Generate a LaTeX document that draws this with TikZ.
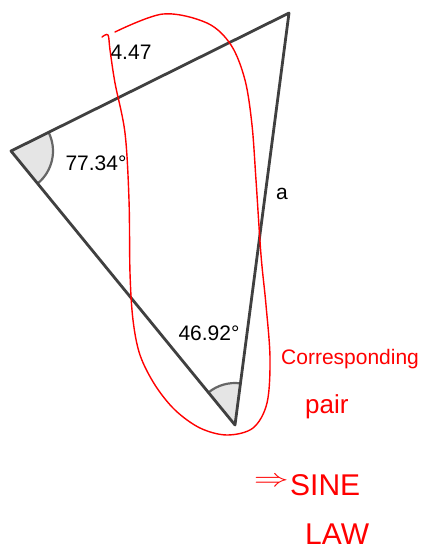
\documentclass[tikz,border=0pt]{standalone}
\usepackage{fontspec}
\setmainfont{Liberation Sans}
\usetikzlibrary{angles,positioning}

\begin{document}
\begin{tikzpicture}[
    x=1pt, y=1pt,
    side/.style={draw=black!75, line width=2.8pt, line join=round},
    anglemark/.style={draw=black!60, line width=2.2pt, fill=black!10, angle radius=42pt},
    lbl/.style={font=\fontsize{21}{24}\selectfont, inner sep=0pt},
    pen/.style={draw=red, line width=1.4pt, line cap=round},
    note/.style={text=red, inner sep=0pt, anchor=base west}
  ]
    \useasboundingbox (0,0) rectangle (425,-550);

    % Triangle
    \coordinate (L) at (11,-151);
    \coordinate (T) at (289,-13);
    \coordinate (B) at (235,-425);
    \pic[anglemark] {angle=B--L--T};
    \pic[anglemark] {angle=T--B--L};
    \draw[side] (L) -- (T) -- (B) -- cycle;

    % Labels
    \node[lbl] (side) at (131,-52) {4.47};
    \node[lbl] (angL) at (96,-163) {77.34°};
    \node[lbl] (sidea) at (282,-194) {a};
    \node[lbl] (angB) at (209,-333) {46.92°};

    % Red loop
    \draw[pen] plot[smooth, tension=0.55] coordinates {
      (102,-37) (108,-35) (110,-50) (115,-83) (125,-133) (129,-200) (130,-273)
      (133,-320) (140,-355) (155,-385) (175,-410) (200,-428) (227,-435)
      (253,-428) (267,-403) (270,-358) (266,-305) (261,-255)
      (256,-180) (252,-125) (245,-80) (231,-45) (207,-23) (163,-14) (115,-32)};

    % Notes
    \node[note, font=\fontsize{21}{25}\selectfont] (corr) at (281,-364) {Corresponding};
    \node[note, font=\fontsize{26}{30}\selectfont] (pair) at (305,-413) {pair};
    \node[note, font=\fontsize{30}{34}\selectfont] (sine) at (290,-495) {SINE};
    \node[note, font=\fontsize{30}{34}\selectfont] (law) at (305,-544) {LAW};
    \node[text=red, inner sep=0pt, font=\fontsize{30}{34}\selectfont, left=1pt of sine.west, yshift=3pt] (impl) {\scalebox{1.4}[1]{$\Rightarrow$}};
  \end{tikzpicture}
\end{document}
